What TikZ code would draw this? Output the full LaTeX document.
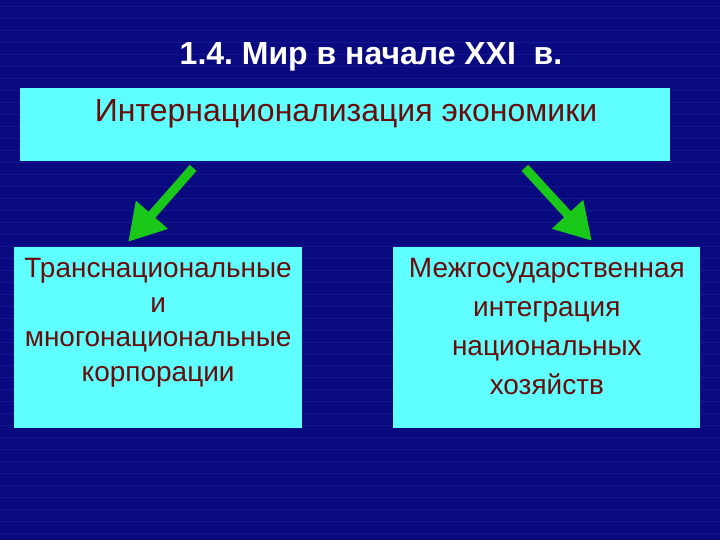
\documentclass[tikz,border=0pt]{standalone}
\usepackage{fontspec}
\setmainfont{Liberation Sans}
\usetikzlibrary{arrows.meta}
\frenchspacing

\definecolor{slidebg}{RGB}{10,10,128}
\definecolor{slideline}{RGB}{22,22,142}
\definecolor{boxcyan}{RGB}{95,255,255}
\definecolor{boxtext}{RGB}{105,12,12}
\definecolor{arrowgreen}{RGB}{25,200,25}

\begin{document}
\begin{tikzpicture}[x=1pt,y=-1pt]
\tikzset{Box/.style={fill=boxcyan,draw=none,inner sep=0pt},
  BoxText/.style={text=boxtext,align=center,inner sep=0pt},
  Arr/.style={draw=arrowgreen,line width=9pt,
    -{Triangle[length=36pt,width=40pt]}}}

  % background
  \fill[slidebg] (0,0) rectangle (720,540);
  \foreach \y in {6,18,...,540}
    \draw[slideline,line width=0.5pt] (0,\y) -- (720,\y);

  \node[text=white,font=\bfseries\fontsize{32}{36}\selectfont] (title) at (371,57)
    {1.4. Мир в начале XXI\ \ в.};

  \node[Box,minimum width=650pt,minimum height=73pt] (top) at (345,124.5) {};
  \node[BoxText,font=\fontsize{32}{36}\selectfont] (toptext) at (346,114)
    {Интернационализация экономики};

  \node[Box,minimum width=288pt,minimum height=181pt] (tnc) at (158,337.5) {};
  \node[BoxText,font=\fontsize{28}{35}\selectfont] (tnctext) at (158,323)
    {Транснациональные\\и\\многонациональные\\корпорации};

  \node[Box,minimum width=307pt,minimum height=181pt] (integ) at (546.5,337.5) {};
  \node[BoxText,font=\fontsize{28}{39}\selectfont] (integtext) at (547,327)
    {Межгосударственная\\интеграция\\национальных\\хозяйств};

  \coordinate (l1) at (193,168);
  \coordinate (l2) at (128,242);
  \coordinate (r1) at (525,168);
  \coordinate (r2) at (592,241);
  \draw[Arr] (l1) -- (l2);
  \draw[Arr] (r1) -- (r2);
\end{tikzpicture}
\end{document}
